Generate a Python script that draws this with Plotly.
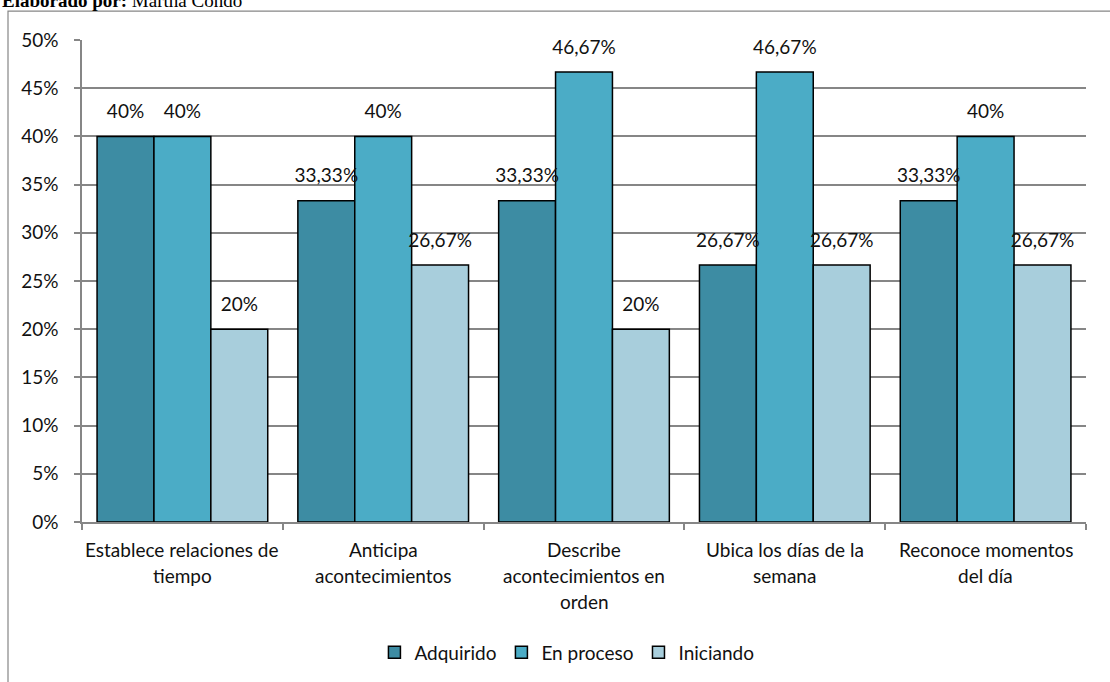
import plotly.graph_objects as go

# Indicadores evaluados (cada línea de la etiqueta por separado)
categorias = ["c1", "c2", "c3", "c4", "c5"]
etiquetas_lineas = [
    ["Establece relaciones de", "tiempo"],
    ["Anticipa", "acontecimientos"],
    ["Describe", "acontecimientos en", "orden"],
    ["Ubica los días de la", "semana"],
    ["Reconoce momentos", "del día"],
]

# Porcentajes por nivel de logro
adquirido = [40, 33.33, 33.33, 26.67, 33.33]
en_proceso = [40, 40, 46.67, 46.67, 40]
iniciando = [20, 26.67, 20, 26.67, 26.67]

series = [
    ("Adquirido", adquirido, "#3D8CA3"),
    ("En proceso", en_proceso, "#4BACC6"),
    ("Iniciando", iniciando, "#A8CEDC"),
]

y_ticks = [0, 5, 10, 15, 20, 25, 30, 35, 40, 45, 50]

FONT = "Lato, 'Open Sans', sans-serif"
FS = 19
GRIS = "#868686"
TEXTO = "#111111"


def formato(v):
    if abs(v - round(v)) < 1e-9:
        return f"{int(round(v))}%"
    return f"{v:.2f}".replace(".", ",") + "%"


fig = go.Figure()

for nombre, valores, color in series:
    fig.add_trace(go.Bar(
        name=nombre,
        x=categorias,
        y=valores,
        marker=dict(color=color, line=dict(color="#000000", width=1.5)),
        offsetgroup=nombre,
        hoverinfo="skip",
    ))

# Etiquetas de datos sobre cada barra
for nombre, valores, color in series:
    fig.add_trace(go.Scatter(
        x=categorias,
        y=valores,
        mode="markers+text",
        text=[formato(v) for v in valores],
        textposition="top center",
        textfont=dict(family=FONT, size=FS, color=TEXTO),
        marker=dict(size=20, opacity=0),
        offsetgroup=nombre,
        showlegend=False,
        hoverinfo="skip",
        cliponaxis=False,
    ))

anotaciones = []
# Etiquetas del eje de categorías
for cat, lineas in zip(categorias, etiquetas_lineas):
    for i, linea in enumerate(lineas):
        anotaciones.append(dict(
            x=cat, xref="x", y=0, yref="paper",
            yanchor="middle", yshift=-27 - 26 * i,
            text=linea, showarrow=False,
            font=dict(family=FONT, size=FS, color=TEXTO),
        ))

anotaciones.append(dict(
    x=-82 / 1004, xref="paper", xanchor="left",
    y=1 + 27 / 483, yref="paper", yanchor="bottom",
    text="<b>Elaborado por:</b> Martha Condo", showarrow=False,
    font=dict(family="'Liberation Serif', 'Times New Roman', serif", size=19, color="#000000"),
))

fig.update_layout(
    width=1110,
    height=682,
    margin=dict(l=82, r=24, t=40, b=159),
    paper_bgcolor="#ffffff",
    plot_bgcolor="#ffffff",
    barmode="group",
    scattermode="group",
    bargap=0.15,
    bargroupgap=0,
    scattergap=0.15,
    font=dict(family=FONT, size=FS, color=TEXTO),
    showlegend=True,
    legend=dict(
        orientation="h",
        x=0.483, xanchor="center",
        y=-0.268, yanchor="middle",
        font=dict(family=FONT, size=FS, color=TEXTO),
        itemwidth=30,
        traceorder="normal",
    ),
    annotations=anotaciones,
    shapes=[dict(
        type="rect", xref="paper", yref="paper",
        x0=-74 / 1004, x1=1.1, y0=-0.6, y1=1 + 29 / 483,
        line=dict(color=GRIS, width=1.2), layer="below",
    )],
)

fig.update_xaxes(
    type="category",
    showticklabels=False,
    showline=True, linecolor=GRIS, linewidth=1.5,
    ticks="outside", ticklen=6, tickcolor=GRIS, tickwidth=1.5,
    tickson="boundaries",
    showgrid=False,
)

fig.update_yaxes(
    range=[0, 50],
    tickvals=y_ticks,
    ticktext=[f"{t}%" for t in y_ticks],
    showline=True, linecolor=GRIS, linewidth=1.5,
    ticks="outside", ticklen=6, tickcolor=GRIS, tickwidth=1.5,
    ticklabelstandoff=12,
    showgrid=True, gridcolor=GRIS, gridwidth=1.5,
    zeroline=False,
    tickfont=dict(family=FONT, size=FS, color=TEXTO),
)

fig.write_html("out.html")
